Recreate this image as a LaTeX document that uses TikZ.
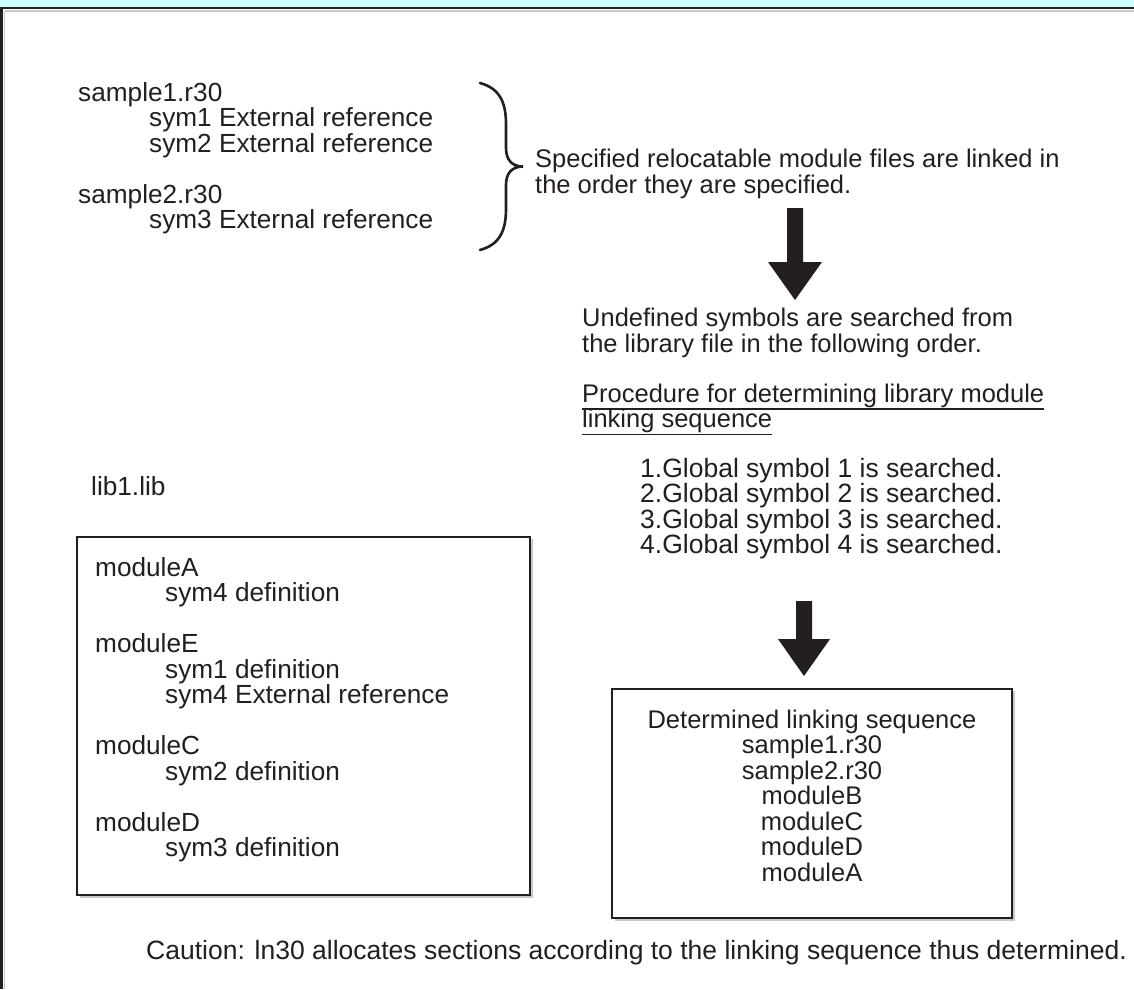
\documentclass[tikz,border=0pt]{standalone}
\usepackage{fontspec}
\setmainfont{Liberation Sans}
\usetikzlibrary{calc}
\definecolor{ink}{HTML}{231F20}
\definecolor{band}{HTML}{CCFFFF}
\definecolor{shade}{HTML}{C8C8C8}
\begin{document}
\begin{tikzpicture}[x=1pt,y=-1pt,
  txt/.style={anchor=base west,inner sep=0pt,text=ink,
    font=\fontsize{25.5}{25.5}\selectfont},
  bigtxt/.style={txt,font=\fontsize{26.2}{26}\selectfont},
  widetxt/.style={txt,font=\fontsize{26.5}{26}\selectfont},
  ctxt/.style={anchor=base,inner sep=0pt,text=ink,
    font=\fontsize{25.5}{25.5}\selectfont},
  frameline/.style={draw=ink,line width=2.6pt},
  boxline/.style={draw=ink,line width=2pt},
  shadowline/.style={draw=shade,line width=1.4pt},
  blockarrow/.style={fill=ink,draw=none}]
\useasboundingbox (0,0) rectangle (1134,989);
\fill[white] (0,0) rectangle (1134,989);

% outer frame: cyan band, top rule and left rule
\fill[band] (0,0) rectangle (1134,6.5);
\draw[shadowline] (4.5,10.8) -- (1134,10.8);
\draw[shadowline] (4.6,10.8) -- (4.6,989);
\draw[frameline] (1.6,8.1) -- (1134,8.1);
\draw[frameline] (1.6,6.8) -- (1.6,989);

% relocatable modules given on the command line
\node[bigtxt] (s1)  at (78,101)   {sample1.r30};
\node[bigtxt] (s1a) at (149,126.5) {sym1 External reference};
\node[bigtxt] (s1b) at (149,152)  {sym2 External reference};
\node[bigtxt] (s2)  at (78,203)   {sample2.r30};
\node[bigtxt] (s2a) at (149,228.5) {sym3 External reference};

% curly brace grouping the two files
\coordinate (bt) at (480,83);
\coordinate (bm) at (523,166.5);
\coordinate (bb) at (480,250);
\draw[ink,line width=2.6pt,line cap=round]
  (bt) .. controls (498,88) and (506,100) .. (506,124)
  -- (506,148) .. controls (506,160) and (512,166.5) .. (bm)
  .. controls (512,166.5) and (506,173) .. (506,185)
  -- (506,209) .. controls (506,233) and (498,245) .. (bb);

\node[txt] (spec1) at (535,167) {Specified relocatable module files are linked in};
\node[txt] (spec2) at (535,193) {the order they are specified.};

% first block arrow
\coordinate (a1) at (795,208);
\fill[blockarrow] (787,208) -- (803,208) -- (803,262) -- (822,262)
  -- (795,300) -- (768,262) -- (787,262) -- cycle;

\node[txt] (und1) at (582,326) {Undefined symbols are searched from};
\node[txt] (und2) at (582,352) {the library file in the following order.};

\node[txt] (proc1) at (582,402) {Procedure for determining library module};
\node[txt] (proc2) at (582,427.5) {linking sequence};
\draw[ink,line width=1.3pt] ($(proc1.base west)+(0,7)$) -- ($(proc1.base east)+(0,7)$);
\draw[ink,line width=1.3pt] ($(proc2.base west)+(0,7)$) -- ($(proc2.base east)+(0,7)$);

\node[widetxt] (g1) at (640,477)   {1.Global symbol 1 is searched.};
\node[widetxt] (g2) at (640,502.5) {2.Global symbol 2 is searched.};
\node[widetxt] (g3) at (640,528)   {3.Global symbol 3 is searched.};
\node[widetxt] (g4) at (640,553.5) {4.Global symbol 4 is searched.};

% second block arrow
\coordinate (a2) at (804,601);
\fill[blockarrow] (796,601) -- (812,601) -- (812,639) -- (830,639)
  -- (804,676) -- (778,639) -- (796,639) -- cycle;

% library file contents
\node[bigtxt] (lib) at (91,495) {lib1.lib};
\draw[shadowline] (80,897) -- (532,897) -- (532,539);
\draw[boxline] (77,537) rectangle (530,895);
\node[bigtxt] (mA)  at (95,576)    {moduleA};
\node[bigtxt] (mAa) at (165,601.5) {sym4 definition};
\node[bigtxt] (mE)  at (95,652.5)  {moduleE};
\node[bigtxt] (mEa) at (165,678)   {sym1 definition};
\node[bigtxt] (mEb) at (165,703.5) {sym4 External reference};
\node[bigtxt] (mC)  at (95,754.5)  {moduleC};
\node[bigtxt] (mCa) at (165,780)   {sym2 definition};
\node[bigtxt] (mD)  at (95,831)    {moduleD};
\node[bigtxt] (mDa) at (165,856.5) {sym3 definition};

% resulting link order
\draw[shadowline] (615,920) -- (1014,920) -- (1014,691);
\draw[boxline] (612,689) rectangle (1012,918);
\node[ctxt] (r0) at (812,728)   {Determined linking sequence};
\node[ctxt] (r1) at (812,753.5) {sample1.r30};
\node[ctxt] (r2) at (812,779)   {sample2.r30};
\node[ctxt] (r3) at (812,804.5) {moduleB};
\node[ctxt] (r4) at (812,830)   {moduleC};
\node[ctxt] (r5) at (812,855.5) {moduleD};
\node[ctxt] (r6) at (812,881)   {moduleA};

\node[widetxt] (note) at (146,959) {Caution: ln30 allocates sections according to the linking sequence thus determined.};
\end{tikzpicture}
\end{document}
